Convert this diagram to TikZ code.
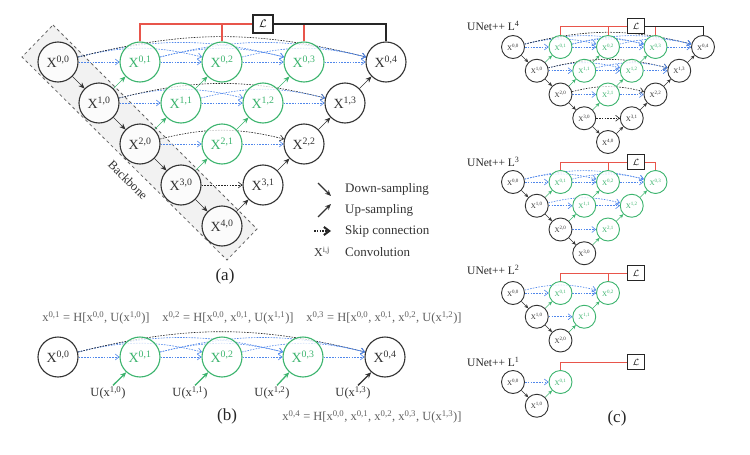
\documentclass[tikz,border=0pt]{standalone}
\usepackage{fontspec}
\setmainfont{Liberation Serif}
\usetikzlibrary{arrows.meta,backgrounds,positioning}

\definecolor{netgreen}{RGB}{60,180,110}
\definecolor{skipblue}{RGB}{80,135,235}
\definecolor{lossred}{RGB}{232,85,75}
\definecolor{eqgray}{RGB}{95,95,95}

\tikzset{
  conv/.style={circle, draw=black!80, fill=white, fill opacity=0.75, text opacity=1, text=black!80, inner sep=0pt},
  convg/.style={conv, draw=netgreen, text=netgreen},
  big/.style={minimum size=40pt, line width=1.1pt, font=\fontsize{14}{16}\selectfont},
  small/.style={minimum size=23pt, line width=0.9pt, font=\fontsize{7}{8}\selectfont},
  down/.style={->, draw=black!80},
  upg/.style={->, draw=netgreen},
  upk/.style={->, draw=black!80},
  skipb/.style={-{Straight Barb[length=3pt 1.2,width=5pt 1.5]}, draw=skipblue, line width=1.25\pgflinewidth, dash pattern=on 1.6pt off 1.2pt},
  skipk/.style={-{Straight Barb[length=3pt 1.2,width=5pt 1.5]}, draw=black!85, line width=1.25\pgflinewidth, dash pattern=on 1.6pt off 1.2pt},
  skiparc/.style={bend left=14},
  skipline/.style={},
  lossbox/.style={draw=black!85, line width=1.5pt, fill=white, inner sep=0pt, minimum width=20pt, minimum height=18pt, font=\fontsize{11}{12}\selectfont},
  lossline/.style={draw=lossred, line width=1.2pt},
  outline/.style={draw=black!85, line width=1.2pt},
  eqtext/.style={text=eqgray, font=\fontsize{12.5}{15}\selectfont, inner sep=1pt},
  utext/.style={text=black!80, font=\fontsize{12.5}{15}\selectfont, inner sep=1pt},
  legtext/.style={anchor=west, text=black!80, font=\fontsize{13}{15}\selectfont, inner sep=0pt},
  paneltext/.style={font=\fontsize{17}{20}\selectfont, text=black!85},
  titletext/.style={anchor=west, font=\fontsize{11.5}{14}\selectfont, text=black!85, inner sep=0pt}
}

% one nested net: prefix, x and y of X00, column step, depth, node size style
\newcommand{\unetpp}[6]{%
  \foreach \i [evaluate=\i as \jmax using int(#5-\i)] in {0,...,#5}{
    \foreach \j in {0,...,\jmax}{
      \def\nst{convg}
      \ifnum\j=0 \def\nst{conv}\fi
      \ifnum\numexpr\i+\j\relax=4 \def\nst{conv}\fi
      \node[\nst,#6] (#1\i\j) at ({#2+(\i/2+\j)*#4}, {#3+\i*#4/2}) {X\textsuperscript{\i,\j}};
    }
  }
  \pgfmathtruncatemacro\dlast{#5-1}
  \begin{scope}[on background layer]
    \foreach \i [evaluate=\i as \ii using int(\i+1), evaluate=\i as \jmax using int(#5-\i), evaluate=\i as \jup using int(#5-\i-1)] in {0,...,\dlast}{
      \draw[down] (#1\i0) -- (#1\ii0);
      \foreach \j [evaluate=\j as \jj using int(\j+1)] in {0,...,\jup}{
        \def\ust{upg}
        \ifnum\numexpr\i+\jj\relax=4 \def\ust{upk}\fi
        \draw[\ust] (#1\ii\j) -- (#1\i\jj);
      }
      \foreach \m [evaluate=\m as \mm using int(\m-1)] in {1,...,\jmax}{
        \foreach \k in {0,...,\mm}{
          \def\sst{skipb}
          \ifnum\k=0 \ifnum\numexpr\i+\m\relax=4 \def\sst{skipk}\fi\fi
          \ifnum\k=\mm\relax \def\bst{skipline}\else \def\bst{skiparc}\fi
          \draw[\sst,\bst] (#1\i\k) to (#1\i\m);
        }
      }
    }
  \end{scope}
}

\begin{document}
\begin{tikzpicture}[x=1pt, y=-1pt]
\useasboundingbox (0,0) rectangle (750,455);

% (a) full net with backbone
\begin{scope}[on background layer]
\draw[fill=gray!10, draw=black!60, dashed, line width=0.8pt] (53,25) -- (257,229) -- (227,260) -- (22,57) -- cycle;
\end{scope}
\node[rotate=-45, font=\fontsize{12.5}{14}\selectfont, text=black!80] (bbone) at (128,180) {Backbone};
\begin{scope}[line width=1.3pt, >={Stealth[length=6pt,width=5pt]}]
\unetpp{a}{58}{62}{82}{4}{big}
\end{scope}
\node[lossbox] (lossa) at (263,24) {$\mathcal{L}$};
\draw[lossline] (a01.north) |- (lossa.west);
\draw[lossline] (a02.north) -- (a02.north |- lossa.west);
\draw[lossline] (a03.north) -- (a03.north |- lossa.east);
\draw[outline] (lossa.east) -| (a04.north);

% legend
\coordinate (dn1) at (318,183);
\coordinate (dn2) at (331,196);
\coordinate (up1) at (318,217);
\coordinate (up2) at (331,204);
\coordinate (sk1) at (314,231);
\coordinate (sk2) at (331,231);
\begin{scope}[line width=1.3pt, >={Stealth[length=6pt,width=5pt]}]
\draw[down] (dn1) -- (dn2);
\draw[upk] (up1) -- (up2);
\draw[skipk] (sk1) -- (sk2);
\end{scope}
\node[legtext] (tdown) at (345,189) {Down-sampling};
\node[legtext] (tup) at (345,210) {Up-sampling};
\node[legtext] (tskip) at (345,231) {Skip connection};
\node[text=black!80, font=\fontsize{12}{14}\selectfont, inner sep=0pt] (xij) at (322,252) {X\textsuperscript{i,j}};
\node[legtext] (tconv) at (345,252) {Convolution};
\node[paneltext] (capa) at (225,276) {(a)};

% (b) first row of the nest
\node[conv,big] (b00) at (58,357) {X\textsuperscript{0,0}};
\node[convg,big] (b01) at (140,357) {X\textsuperscript{0,1}};
\node[convg,big] (b02) at (222,357) {X\textsuperscript{0,2}};
\node[convg,big] (b03) at (303,357) {X\textsuperscript{0,3}};
\node[conv,big] (b04) at (385,357) {X\textsuperscript{0,4}};
\begin{scope}[on background layer, line width=1.3pt, >={Stealth[length=6pt,width=5pt]}]
\foreach \m [evaluate=\m as \mm using int(\m-1)] in {1,...,4}{
  \foreach \k in {0,...,\mm}{
    \def\sst{skipb}
    \ifnum\k=0 \ifnum\m=4 \def\sst{skipk}\fi\fi
    \ifnum\k=\mm\relax \def\bst{skipline}\else \def\bst{skiparc}\fi
    \draw[\sst,\bst] (b0\k) to (b0\m);
  }
}
\end{scope}
\node[utext] (u10) at (108,393) {U(x\textsuperscript{1,0})};
\node[utext] (u11) at (190,393) {U(x\textsuperscript{1,1})};
\node[utext] (u12) at (272,393) {U(x\textsuperscript{1,2})};
\node[utext] (u13) at (353,393) {U(x\textsuperscript{1,3})};
\begin{scope}[line width=1.3pt, >={Stealth[length=6pt,width=5pt]}]
\draw[upg] ([xshift=5pt]u10.north) -- (b01.228);
\draw[upg] ([xshift=5pt]u11.north) -- (b02.228);
\draw[upg] ([xshift=5pt]u12.north) -- (b03.228);
\draw[upk] ([xshift=5pt]u13.north) -- (b04.228);
\end{scope}
\node[eqtext] (eq01) at (96,318) {x\textsuperscript{0,1} = H[x\textsuperscript{0,0}, U(x\textsuperscript{1,0})]};
\node[eqtext] (eq02) at (228,318) {x\textsuperscript{0,2} = H[x\textsuperscript{0,0}, x\textsuperscript{0,1}, U(x\textsuperscript{1,1})]};
\node[eqtext] (eq03) at (384,318) {x\textsuperscript{0,3} = H[x\textsuperscript{0,0}, x\textsuperscript{0,1}, x\textsuperscript{0,2}, U(x\textsuperscript{1,2})]};
\node[eqtext] (eq04) at (372,417) {x\textsuperscript{0,4} = H[x\textsuperscript{0,0}, x\textsuperscript{0,1}, x\textsuperscript{0,2}, x\textsuperscript{0,3}, U(x\textsuperscript{1,3})]};
\node[paneltext] (capb) at (227,416) {(b)};

% (c) pruned nets L4 to L1
\begin{scope}[line width=0.9pt, >={Stealth[length=4pt,width=3.5pt]}]
\unetpp{l4}{513}{47}{47.5}{4}{small}
\unetpp{l3}{513}{182}{47.5}{3}{small}
\unetpp{l2}{513}{293}{47.5}{2}{small}
\unetpp{l1}{513}{382}{47.5}{1}{small}
\end{scope}
\node[titletext] (tl4) at (467,26) {UNet++ L\textsuperscript{4}};
\node[titletext] (tl3) at (467,162) {UNet++ L\textsuperscript{3}};
\node[titletext] (tl2) at (467,270) {UNet++ L\textsuperscript{2}};
\node[titletext] (tl1) at (467,362) {UNet++ L\textsuperscript{1}};
\begin{scope}[lossbox/.append style={minimum width=17pt, minimum height=15pt, line width=1.3pt, font=\fontsize{9}{10}\selectfont}, lossline/.append style={line width=1pt}, outline/.append style={line width=1pt}]
\node[lossbox] (loss4) at (636,26) {$\mathcal{L}$};
\draw[lossline] (l401.north) |- (loss4.west);
\draw[lossline] (l402.north) -- (l402.north |- loss4.west);
\draw[lossline] (l403.north) -- (l403.north |- loss4.east);
\draw[outline] (loss4.east) -| (l404.north);
\node[lossbox] (loss3) at (636,162) {$\mathcal{L}$};
\draw[lossline] (l301.north) |- (loss3.west);
\draw[lossline] (l302.north) -- (l302.north |- loss3.west);
\draw[lossline] (loss3.east) -| (l303.north);
\node[lossbox] (loss2) at (636,273) {$\mathcal{L}$};
\draw[lossline] (l201.north) |- (loss2.west);
\draw[lossline] (l202.north) -- (l202.north |- loss2.west);
\node[lossbox] (loss1) at (636,362) {$\mathcal{L}$};
\draw[lossline] (l101.north) |- (loss1.west);
\end{scope}
\node[paneltext] (capc) at (617,418) {(c)};
\end{tikzpicture}
\end{document}
